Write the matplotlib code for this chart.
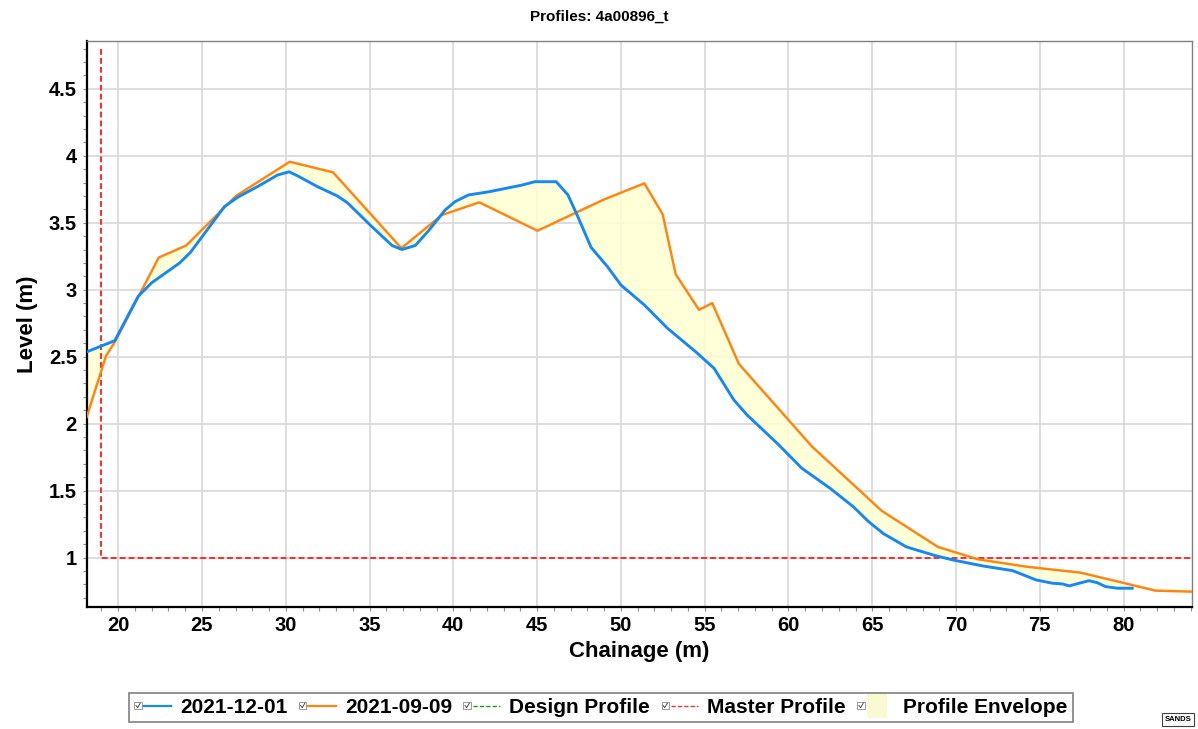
import numpy as np
import matplotlib
matplotlib.use("Agg")
import matplotlib.pyplot as plt
from matplotlib.lines import Line2D
from matplotlib.patches import Rectangle, Patch
from matplotlib.legend_handler import HandlerBase
from matplotlib.ticker import MultipleLocator, FuncFormatter

# ---------------- data ----------------
title = "Profiles: 4a00896_t"
x_label = "Chainage (m)"
y_label = "Level (m)"

blue_label = "2021-12-01"
blue_x = [18.20, 19.80, 21.19, 21.98, 23.67, 24.32, 26.34, 27.13, 28.32, 29.51,
          30.20, 30.70, 31.88, 33.07, 33.67, 35.06, 36.34, 36.93, 37.73, 38.52, 39.51,
          40.10, 40.90, 42.08, 44.07, 44.86, 46.14, 46.84, 47.43, 48.22, 49.21, 50.00,
          51.40, 52.78, 54.46, 55.56, 56.74, 57.53, 59.32, 60.80, 62.48, 63.87, 64.77,
          65.66, 67.04, 68.82, 69.81, 71.60, 73.38, 74.77, 75.76, 76.35, 76.75, 77.34,
          77.93, 78.43, 78.92, 79.62, 80.51]
blue_y = [2.54, 2.62, 2.95, 3.05, 3.20, 3.28, 3.62, 3.69, 3.77, 3.856,
          3.88, 3.85, 3.77, 3.70, 3.65, 3.48, 3.33, 3.30, 3.33, 3.44, 3.595,
          3.657, 3.707, 3.73, 3.78, 3.806, 3.806, 3.707, 3.545, 3.316, 3.17, 3.035,
          2.886, 2.712, 2.537, 2.413, 2.177, 2.065, 1.854, 1.667, 1.518, 1.38, 1.27,
          1.18, 1.08, 1.013, 0.983, 0.938, 0.903, 0.834, 0.809, 0.804, 0.789, 0.809,
          0.828, 0.813, 0.784, 0.772, 0.772]

orange_label = "2021-09-09"
orange_x = [18.12, 19.27, 19.80, 22.42, 24.06, 27.03, 30.24, 32.82, 36.90, 39.31,
            41.55, 45.02, 49.02, 51.40, 52.49, 53.27, 54.66, 55.45, 57.04, 61.40,
            65.56, 68.92, 71.30, 74.17, 77.44, 81.90, 84.10]
orange_y = [2.05, 2.505, 2.61, 3.24, 3.33, 3.70, 3.955, 3.876, 3.31, 3.557,
            3.652, 3.44, 3.675, 3.794, 3.563, 3.115, 2.85, 2.90, 2.446, 1.83,
            1.35, 1.08, 0.988, 0.933, 0.888, 0.754, 0.746]

design_label = "Design Profile"
master_label = "Master Profile"
master_x = [19.0, 19.0, 85.0]
master_y = [4.8, 1.0, 1.0]
envelope_label = "Profile Envelope"

x_ticks = [20, 25, 30, 35, 40, 45, 50, 55, 60, 65, 70, 75, 80]
y_ticks = [1, 1.5, 2, 2.5, 3, 3.5, 4, 4.5]

# ---------------- styles ----------------
C_BLUE = "#1589F0"
C_ORANGE = "#FF8412"
C_RED = "#FF2A2A"
C_GREEN = "#1A9A1A"
C_FILL = "#FFFFD2"
C_FILL_LEG = "#FAFAD2"

plt.rcParams['font.family'] = ['Liberation Sans', 'DejaVu Sans']

W, H = 1198, 729
fig = plt.figure(figsize=(W / 100, H / 100), dpi=100)
ax = fig.add_axes([86.7 / W, 1 - 606.7 / H, (1192 - 86.7) / W, (606.7 - 41.3) / H])

# envelope
bx = np.array(blue_x); by = np.array(blue_y)
ox = np.array(orange_x); oy = np.array(orange_y)
grid_x = np.union1d(bx, ox)
b_i = np.interp(grid_x, bx, by)
o_i = np.interp(grid_x, ox, oy)
ax.fill_between(grid_x, np.minimum(b_i, o_i), np.maximum(b_i, o_i),
                color=C_FILL, alpha=0.85, lw=0, zorder=1)

ax.plot(master_x, master_y, color=C_RED, lw=1.4, ls=(0, (3, 1.6)), zorder=2)
ax.plot(ox, oy, color=C_ORANGE, lw=1.75, zorder=3, solid_joinstyle='round')
ax.plot(bx, by, color=C_BLUE, lw=2.1, zorder=4, solid_joinstyle='round')

ax.set_xlim(18.12, 84.08)
ax.set_ylim(0.634, 4.854)
ax.set_xticks(x_ticks)
ax.set_yticks(y_ticks)
ax.xaxis.set_minor_locator(MultipleLocator(1))
ax.yaxis.set_minor_locator(MultipleLocator(0.1))
ax.yaxis.set_major_formatter(FuncFormatter(lambda v, p: "%g" % v))
ax.xaxis.set_major_formatter(FuncFormatter(lambda v, p: "%g" % v))
ax.grid(True, which='major', color='#D8D8D8', lw=1.2, zorder=0)
ax.set_axisbelow(True)

for lab in ax.get_xticklabels() + ax.get_yticklabels():
    lab.set_fontweight('bold')
ax.tick_params(axis='both', which='major', labelsize=14.5, length=3, width=0.8,
               color='#909090', pad=4)
ax.tick_params(axis='both', which='minor', length=3, width=0.8, color='#909090')

ax.spines['left'].set_color('black')
ax.spines['left'].set_linewidth(1.6)
ax.spines['bottom'].set_color('black')
ax.spines['bottom'].set_linewidth(1.6)
ax.spines['top'].set_color('#808080')
ax.spines['top'].set_linewidth(1.0)
ax.spines['right'].set_color('#808080')
ax.spines['right'].set_linewidth(1.0)

ax.set_xlabel(x_label, fontsize=16, fontweight='bold', labelpad=4)
ax.set_ylabel(y_label, fontsize=16, fontweight='bold', labelpad=8)

fig.text(0.5, 1 - 17 / H, title, ha='center', va='center', fontsize=11, fontweight='bold')


# ---------------- legend with checkbox ----------------
class CheckedHandler(HandlerBase):
    def create_artists(self, legend, orig_handle, xdescent, ydescent,
                       width, height, fontsize, trans):
        x0 = -xdescent
        y0 = -ydescent
        yc = y0 + height / 2
        bs = 5.2
        arts = []
        box = Rectangle((x0, yc - bs / 2), bs, bs, fc='white', ec='#8A8A8A',
                        lw=0.6, transform=trans)
        chk = Line2D([x0 + 1.1, x0 + 2.3, x0 + bs - 1.0],
                     [yc + 0.2, yc - 1.4, yc + 1.8], color='#303030', lw=0.6,
                     transform=trans)
        arts += [box, chk]
        if isinstance(orig_handle, Patch):
            r = Rectangle((x0 + bs + 1.8, yc - 8.5), 14.5, 17,
                          fc=orig_handle.get_facecolor(), ec='none', transform=trans)
            arts.append(r)
        else:
            ln = Line2D([x0 + bs + 1.5, x0 + width], [yc, yc],
                        color=orig_handle.get_color(), lw=orig_handle.get_linewidth(),
                        ls=orig_handle.get_linestyle(), transform=trans)
            if orig_handle.get_linestyle() in ('--', 'dashed'):
                ln.set_dashes((3, 1.6))
            arts.append(ln)
        return arts


h_blue = Line2D([], [], color=C_BLUE, lw=1.6)
h_orange = Line2D([], [], color=C_ORANGE, lw=1.6)
h_design = Line2D([], [], color=C_GREEN, lw=1.0, ls='--')
h_master = Line2D([], [], color=C_RED, lw=1.0, ls='--')
h_env = Patch(facecolor=C_FILL_LEG)

handles = [h_blue, h_orange, h_design, h_master, h_env]
labels = [blue_label, orange_label, design_label, master_label, envelope_label]
hmap = {h: CheckedHandler() for h in handles}

leg = fig.legend(handles, labels, handler_map=hmap, ncol=5, loc='center',
                 bbox_to_anchor=(601 / W, 1 - 707.5 / H), frameon=True,
                 fancybox=False, edgecolor='#808080', framealpha=1,
                 prop={'weight': 'bold', 'size': 15}, handlelength=1.75,
                 handletextpad=0.45, columnspacing=0.55, borderpad=0.25,
                 borderaxespad=0)
leg.get_frame().set_linewidth(1.2)

# SANDS badge
fig.text(1178 / W, 1 - 719.5 / H, "SANDS", ha='center', va='center', fontsize=5.5,
         fontweight='bold',
         bbox=dict(boxstyle='square,pad=0.35', fc='white', ec='#404040', lw=0.8))

fig.savefig("out.png", dpi=100)
